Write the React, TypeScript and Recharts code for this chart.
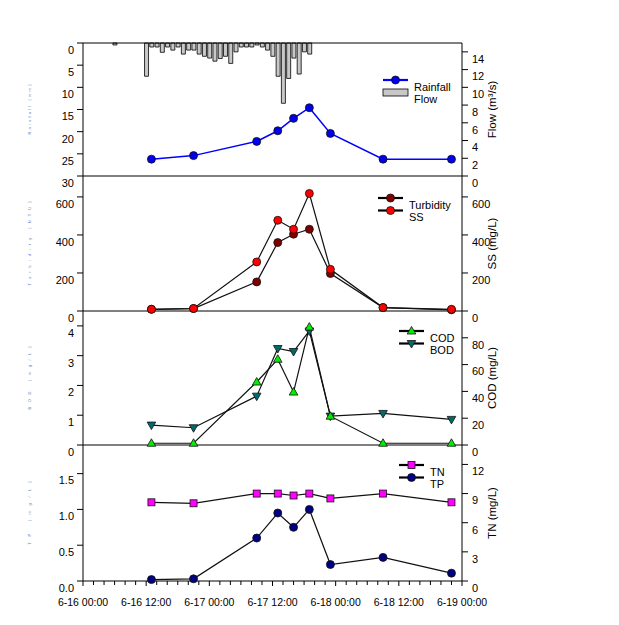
import React from "react";
import { ComposedChart, Bar, Line, XAxis, YAxis, ReferenceLine, Legend } from "recharts";

// hours counted from 6-16 00:00
const sampleHours = [13, 21, 33, 37, 40, 43, 47, 57, 70];
const flow = [1.9, 2.3, 3.9, 5.1, 6.5, 7.7, 4.8, 1.9, 1.9];
const ss = [9, 13, 258, 477, 430, 618, 219, 18, 9];
const turbidity = [9, 13, 153, 360, 404, 430, 197, 18, 6];
const cod = [1.3, 1.3, 47, 64, 39.5, 88, 21.5, 1.3, 1.3];
const bod = [0.67, 0.58, 1.64, 3.24, 3.14, 3.83, 0.97, 1.06, 0.86];
const tn = [8.1, 8.0, 9.0, 9.0, 8.8, 9.0, 8.5, 9.0, 8.1];
const tp = [0.02, 0.03, 0.6, 0.95, 0.75, 1.0, 0.23, 0.33, 0.11];

// hourly rainfall (mm)
const rainHours = [6, 12, 13, 14, 15, 16, 17, 18, 19, 20, 21, 22, 23, 24, 25, 26, 27, 28, 29, 30, 31, 32, 33, 34, 35, 36, 37, 38, 39, 40, 41, 42, 43];
const rainfall = [0.45, 7.5, 0.9, 0.9, 2.1, 0.9, 1.6, 0.9, 2.5, 1.6, 1.6, 2.5, 3.0, 3.4, 4.1, 3.5, 3.0, 4.6, 2.0, 0.9, 0.9, 0.9, 0.45, 0.9, 1.6, 3.0, 7.5, 13.6, 8.0, 3.4, 7.0, 2.0, 2.5];

const dateLabels = ["6-16 00:00", "6-16 12:00", "6-17 00:00", "6-17 12:00", "6-18 00:00", "6-18 12:00", "6-19 00:00"];
const majorHours = [0, 12, 24, 36, 48, 60, 72];
const minorHours = Array.from({ length: 37 }, (_, i) => i * 2);

const FONT = "Arial, 'Liberation Sans', sans-serif";
const W = 619;
const LEFT_W = 83;
const RIGHT_W = 157;

// table for the top panel: union of rain hours and sample hours
const topHours = Array.from(new Set([...rainHours, ...sampleHours])).sort((a, b) => a - b);
const topRows = topHours.map((h) => {
  const ri = rainHours.indexOf(h);
  const si = sampleHours.indexOf(h);
  return { h, rain: ri >= 0 ? rainfall[ri] : null, flow: si >= 0 ? flow[si] : null };
});
const sampleRows = sampleHours.map((h, i) => ({
  h,
  flow: flow[i],
  ss: ss[i],
  turbidity: turbidity[i],
  cod: cod[i],
  bod: bod[i],
  tn: tn[i],
  tp: tp[i],
}));

// marker shapes
const drawCircle = (fill: string) => (cx: number, cy: number, key?: string) => (
  <circle key={key} cx={cx} cy={cy} r={4} fill={fill} stroke="#111" strokeWidth={0.8} />
);
const drawTriUp = (fill: string) => (cx: number, cy: number, key?: string) => (
  <polygon key={key} points={`${cx},${cy - 4.5} ${cx + 4.3},${cy + 3} ${cx - 4.3},${cy + 3}`} fill={fill} stroke="#111" strokeWidth={0.8} />
);
const drawTriDown = (fill: string) => (cx: number, cy: number, key?: string) => (
  <polygon key={key} points={`${cx},${cy + 4.5} ${cx + 4.3},${cy - 3} ${cx - 4.3},${cy - 3}`} fill={fill} stroke="#111" strokeWidth={0.8} />
);
const drawSquare = (fill: string) => (cx: number, cy: number, key?: string) => (
  <rect key={key} x={cx - 3.5} y={cy - 3.5} width={7} height={7} fill={fill} stroke="#111" strokeWidth={0.8} />
);

const dotOf = (shape: (cx: number, cy: number, key?: string) => React.ReactElement) => (p: any) => {
  const key = `dot-${p.index}`;
  if (p.cy == null || p.cx == null || isNaN(p.cy)) return <g key={key} />;
  return shape(p.cx, p.cy, key);
};

function YTick(props: any) {
  const { x, y, payload, textAnchor, digits } = props;
  const label = digits ? Number(payload.value).toFixed(digits) : String(payload.value);
  return (
    <text x={x} y={y + 7} dy="0.35em" textAnchor={textAnchor} fontSize={11} fontFamily={FONT} fill="#000">
      {label}
    </text>
  );
}

function XTick(props: any) {
  const { x, y, payload } = props;
  const h = payload.value;
  const mi = majorHours.indexOf(h);
  return (
    <g>
      <line x1={x} x2={x} y1={y} y2={y + (mi >= 0 ? 5 : 4)} stroke="#000" />
      {mi >= 0 && (
        <text x={x} y={y + 21} dy="0.35em" textAnchor="middle" fontSize={10.5} fontFamily={FONT} fill="#000">
          {dateLabels[mi]}
        </text>
      )}
    </g>
  );
}

function RightTitle(props: any) {
  const { viewBox, value } = props;
  const { x, y, height } = viewBox;
  return (
    <text transform={`translate(${x + 30},${y + height / 2}) rotate(-90)`} textAnchor="middle" dy="0.35em" fontSize={11.5} fontFamily={FONT} fill="#000">
      {value}
    </text>
  );
}

function LeftTitle(props: any) {
  const { viewBox, value, len } = props;
  const { x, y, height } = viewBox;
  return (
    <text transform={`translate(${x + 30},${y + height / 2}) rotate(-90)`} textAnchor="middle" dy="0.35em" fontSize={4} textLength={len} lengthAdjust="spacing" fontFamily={FONT} fill="#1f5fc0" opacity={0.8}>
      {value}
    </text>
  );
}

type LegendItem = { label: string; line?: string; box?: boolean; marker?: (cx: number, cy: number, key?: string) => React.ReactElement };

const legendContent = (items: LegendItem[]) => () => (
  <svg width={110} height={30} style={{ overflow: "visible", display: "block" }}>
    {items.map((it, i) => {
      const y = i * 12.5;
      return (
        <g key={it.label}>
          {it.box ? (
            <rect x={0} y={y - 3.5} width={25} height={7} fill="#c8c8c8" stroke="#000" strokeWidth={0.8} />
          ) : (
            <g>
              <line x1={0} x2={25} y1={y} y2={y} stroke={it.line} strokeWidth={2.2} />
              {it.marker && it.marker(12.5, y)}
            </g>
          )}
          <text x={31} y={y + 7} dy="0.35em" fontSize={11} fontFamily={FONT} fill="#000">
            {it.label}
          </text>
        </g>
      );
    })}
  </svg>
);

const axisStroke = { stroke: "#000", strokeWidth: 1 };

function Panel({ top, plotH, bottom, children }: { top: number; plotH: number; bottom?: boolean; children: React.ReactNode }) {
  return <div style={{ position: "absolute", left: 0, top }}>{children}</div>;
}

export default function App() {
  const xHidden = (
    <XAxis dataKey="h" type="number" domain={[0, 72]} ticks={majorHours} tick={false} tickLine={false} height={1} axisLine={axisStroke} />
  );
  const legendPos = (left: number, top: number) => ({ left, top, width: 110, height: 30 });

  return (
    <div style={{ position: "absolute", left: 0, top: 0, width: W, height: 625, background: "#fff", fontFamily: FONT }}>
      <style>{`.recharts-surface{overflow:visible}.recharts-wrapper{overflow:visible}`}</style>

      {/* rainfall / flow */}
      <div style={{ position: "absolute", left: 0, top: 43 }}>
        <ComposedChart width={W} height={134} data={topRows} margin={{ top: 0, right: 0, bottom: 0, left: 0 }}>
          {xHidden}
          <YAxis yAxisId="rain" orientation="left" width={LEFT_W} reversed domain={[0, 30]} ticks={[0, 5, 10, 15, 20, 25, 30]} interval={0}
            axisLine={axisStroke} tickLine={axisStroke} tickMargin={3} tick={<YTick />}
            label={<LeftTitle value="Rainfall (mm)" len={50} />} />
          <YAxis yAxisId="flow" orientation="right" width={RIGHT_W} domain={[0, 15]} ticks={[0, 2, 4, 6, 8, 10, 12, 14]} interval={0}
            axisLine={axisStroke} tickLine={axisStroke} tickMargin={4} tick={<YTick />}
            label={<RightTitle value="Flow (m³/s)" />} />
          <ReferenceLine yAxisId="rain" y={0} stroke="#000" strokeWidth={1} />
          <Bar yAxisId="rain" dataKey="rain" barSize={4} fill="#c8c8c8" stroke="#000" strokeWidth={0.8} isAnimationActive={false} />
          <Line yAxisId="flow" dataKey="flow" connectNulls stroke="#0000ff" strokeWidth={1.5} dot={dotOf(drawCircle("#0000ee"))} isAnimationActive={false} />
          <Legend layout="vertical" align="center" verticalAlign="middle" wrapperStyle={legendPos(383, 37)}
            content={legendContent([
              { label: "Rainfall", line: "#0000ff", marker: drawCircle("#0000ee") },
              { label: "Flow", box: true },
            ])} />
        </ComposedChart>
      </div>

      {/* turbidity / SS */}
      <div style={{ position: "absolute", left: 0, top: 176 }}>
        <ComposedChart width={W} height={136} data={sampleRows} margin={{ top: 0, right: 0, bottom: 0, left: 0 }}>
          {xHidden}
          <YAxis yAxisId="turb" orientation="left" width={LEFT_W} domain={[0, 710]} ticks={[0, 200, 400, 600]} interval={0}
            axisLine={axisStroke} tickLine={axisStroke} tickMargin={3} tick={<YTick />}
            label={<LeftTitle value="Turbidity (NTU)" len={84} />} />
          <YAxis yAxisId="ss" orientation="right" width={RIGHT_W} domain={[0, 710]} ticks={[0, 200, 400, 600]} interval={0}
            axisLine={axisStroke} tickLine={axisStroke} tickMargin={4} tick={<YTick />}
            label={<RightTitle value="SS (mg/L)" />} />
          <Line yAxisId="turb" dataKey="turbidity" stroke="#111" strokeWidth={1.2} dot={dotOf(drawCircle("#800000"))} isAnimationActive={false} />
          <Line yAxisId="ss" dataKey="ss" stroke="#111" strokeWidth={1.2} dot={dotOf(drawCircle("#ff0000"))} isAnimationActive={false} />
          <Legend layout="vertical" align="center" verticalAlign="middle" wrapperStyle={legendPos(378, 22)}
            content={legendContent([
              { label: "Turbidity", line: "#000", marker: drawCircle("#800000") },
              { label: "SS", line: "#000", marker: drawCircle("#ff0000") },
            ])} />
        </ComposedChart>
      </div>

      {/* COD / BOD */}
      <div style={{ position: "absolute", left: 0, top: 311 }}>
        <ComposedChart width={W} height={135} data={sampleRows} margin={{ top: 0, right: 0, bottom: 0, left: 0 }}>
          {xHidden}
          <YAxis yAxisId="bod" orientation="left" width={LEFT_W} domain={[0, 4.5]} ticks={[0, 1, 2, 3, 4]} interval={0}
            axisLine={axisStroke} tickLine={axisStroke} tickMargin={3} tick={<YTick />}
            label={<LeftTitle value="BOD (mg/L)" len={63} />} />
          <YAxis yAxisId="cod" orientation="right" width={RIGHT_W} domain={[0, 100]} ticks={[0, 20, 40, 60, 80]} interval={0}
            axisLine={axisStroke} tickLine={axisStroke} tickMargin={4} tick={<YTick />}
            label={<RightTitle value="COD (mg/L)" />} />
          <Line yAxisId="bod" dataKey="bod" stroke="#111" strokeWidth={1.2} dot={dotOf(drawTriDown("#006b6b"))} isAnimationActive={false} />
          <Line yAxisId="cod" dataKey="cod" stroke="#111" strokeWidth={1.2} dot={dotOf(drawTriUp("#00ee00"))} isAnimationActive={false} />
          <Legend layout="vertical" align="center" verticalAlign="middle" wrapperStyle={legendPos(399, 20)}
            content={legendContent([
              { label: "COD", line: "#000", marker: drawTriUp("#00ee00") },
              { label: "BOD", line: "#000", marker: drawTriDown("#006b6b") },
            ])} />
        </ComposedChart>
      </div>

      {/* TN / TP */}
      <div style={{ position: "absolute", left: 0, top: 445 }}>
        <ComposedChart width={W} height={176} data={sampleRows} margin={{ top: 0, right: 0, bottom: 0, left: 0 }}>
          <XAxis dataKey="h" type="number" domain={[0, 72]} ticks={minorHours} interval={0} tickLine={false} tickSize={0} tickMargin={0}
            height={40} axisLine={axisStroke} tick={<XTick />} />
          <YAxis yAxisId="tp" orientation="left" width={LEFT_W} domain={[0, 1.9]} ticks={[0, 0.5, 1, 1.5]} interval={0}
            axisLine={axisStroke} tickLine={axisStroke} tickMargin={3} tick={<YTick digits={1} />}
            label={<LeftTitle value="TP (mg/L)" len={63} />} />
          <YAxis yAxisId="tn" orientation="right" width={RIGHT_W} domain={[0, 14]} ticks={[0, 3, 6, 9, 12]} interval={0}
            axisLine={axisStroke} tickLine={axisStroke} tickMargin={4} tick={<YTick />}
            label={<RightTitle value="TN (mg/L)" />} />
          <Line yAxisId="tn" dataKey="tn" stroke="#111" strokeWidth={1.2} dot={dotOf(drawSquare("#ff00ff"))} isAnimationActive={false} />
          <Line yAxisId="tp" dataKey="tp" stroke="#111" strokeWidth={1.2} dot={dotOf(drawCircle("#000080"))} isAnimationActive={false} />
          <Legend layout="vertical" align="center" verticalAlign="middle" wrapperStyle={legendPos(399, 20)}
            content={legendContent([
              { label: "TN", line: "#000", marker: drawSquare("#ff00ff") },
              { label: "TP", line: "#000", marker: drawCircle("#000080") },
            ])} />
        </ComposedChart>
      </div>
    </div>
  );
}
